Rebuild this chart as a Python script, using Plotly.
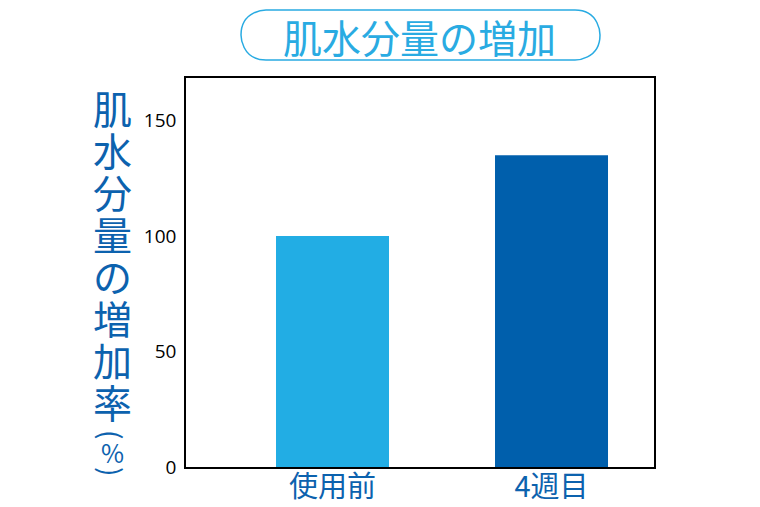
import plotly.graph_objects as go

# data
categories = ['使用前', '4週目']
values = [100, 135]
y_ticks = [0, 50, 100, 150]
title_text = '肌水分量の増加'
ylabel_chars = ['肌', '水', '分', '量', 'の', '増', '加', '率']

bar_colors = ['#22ade4', '#005fac']
light_blue = '#29abe2'
dark_blue = '#0c62ae'
cjk = 'Noto Sans CJK JP'

# page offset of the plot div (body margin)
OFF = 8
W, H = 760 - 2 * OFF, 507 - OFF
# plot area in page pixels
PL, PR, PT, PB = 186, 654, 78, 467
L, R, T, B = PL - OFF, W - (PR - OFF), PT - OFF, H - (PB - OFF)
pw, ph = PR - PL, PB - PT

def px_x(x):
  return (x - PL) / pw

def px_y(y):
  return (PB - y) / ph

fig = go.Figure()
fig.add_trace(go.Bar(x=[0, 1], y=values, marker_color=bar_colors,
  marker_line_width=0, width=0.516, showlegend=False))

fig.update_layout(
  width=W, height=H,
  margin=dict(l=L, r=R, t=T, b=B, autoexpand=False),
  plot_bgcolor='white', paper_bgcolor='white',
  font=dict(family=cjk),
)
fig.update_xaxes(range=[-0.669, 1.468], tickvals=[0, 1], ticktext=categories,
  tickfont=dict(family=cjk, size=29, color=dark_blue), automargin=False,
  showline=True, linecolor='black', linewidth=1.5, mirror=True,
  showgrid=False, ticks='', zeroline=False, ticklabelstandoff=-7)
fig.update_yaxes(range=[0, 168.4], tickvals=y_ticks, automargin=False,
  tickfont=dict(family='Open Sans', size=19, color='black'),
  showline=True, linecolor='black', linewidth=1.5, mirror=True,
  showgrid=False, ticks='', zeroline=False, ticklabelstandoff=4)

# rounded title box
x0, x1, y0, y1 = px_x(241), px_x(600), px_y(60), px_y(10)
rx, ry = 25 / pw, 25 / ph
path = (f'M {x0+rx},{y1} L {x1-rx},{y1} C {x1},{y1} {x1},{y1-ry} {x1},{y1-ry} '
        f'L {x1},{y0+ry} C {x1},{y0} {x1-rx},{y0} {x1-rx},{y0} '
        f'L {x0+rx},{y0} C {x0},{y0} {x0},{y0+ry} {x0},{y0+ry} '
        f'L {x0},{y1-ry} C {x0},{y1} {x0+rx},{y1} {x0+rx},{y1} Z')
fig.add_shape(type='path', path=path, xref='paper', yref='paper',
  line=dict(color=light_blue, width=1.5))
fig.add_annotation(text=title_text, x=px_x(419), y=px_y(36), xref='paper', yref='paper',
  showarrow=False, xanchor='center', yanchor='middle',
  font=dict(family=cjk, size=39, color=light_blue))

# vertical y label
for i, ch in enumerate(ylabel_chars):
  fig.add_annotation(text=ch, x=px_x(112), y=px_y(106.5 + 42.1 * i), xref='paper', yref='paper',
    showarrow=False, xanchor='center', yanchor='middle',
    font=dict(family=cjk, size=39, color=dark_blue))
for ch, yy, sz, ang in [('(', 434, 28, 90), ('%', 452, 25, 0), (')', 471, 28, 90)]:
  fig.add_annotation(text=ch, x=px_x(112), y=px_y(yy), xref='paper', yref='paper',
    showarrow=False, xanchor='center', yanchor='middle', textangle=ang,
    font=dict(family=cjk, size=sz, color=dark_blue))

fig.write_html('out.html')
